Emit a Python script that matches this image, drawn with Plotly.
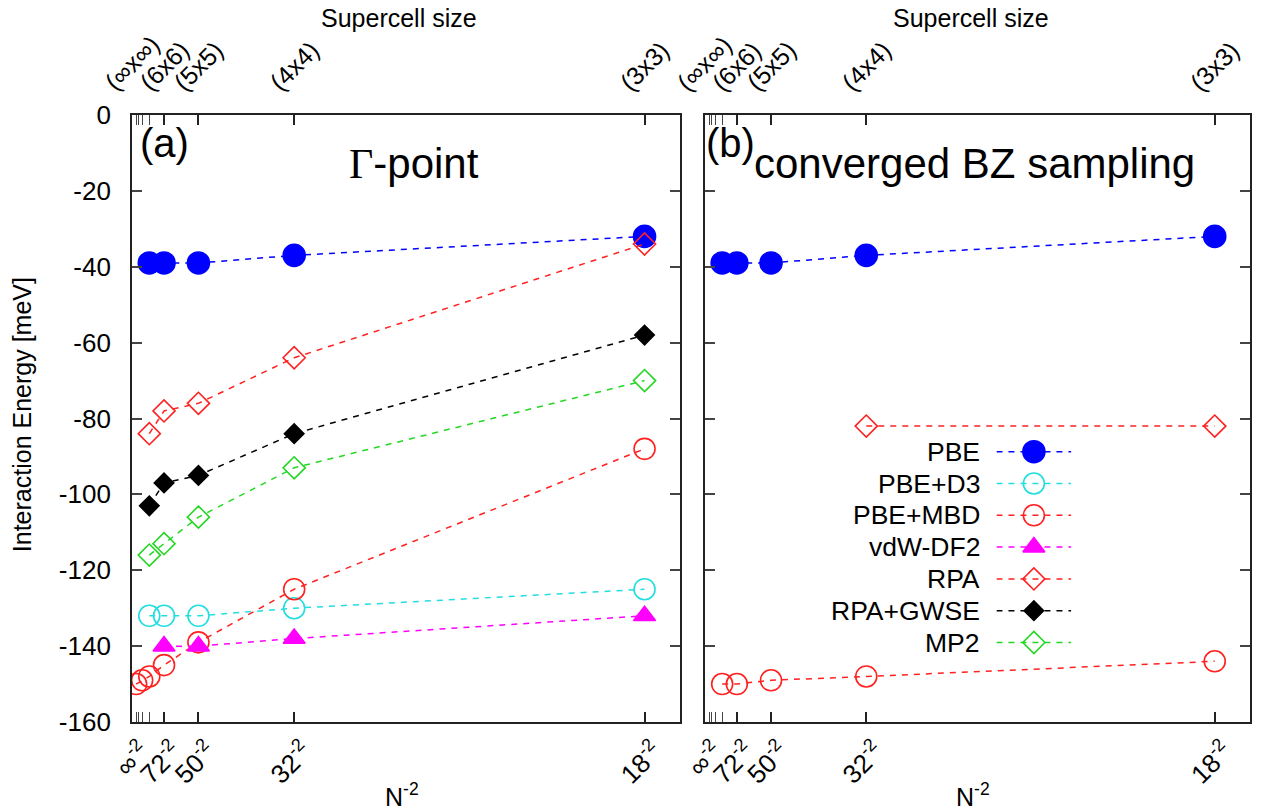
import plotly.graph_objects as go

# ---------------- data ----------------
# x axis: N^-2 ; N = 0 stands for infinity
X_TICK_N = [0, 72, 50, 32, 18]
X_TICK_TEXT = ['∞', '72', '50', '32', '18']
X_MINOR_N = [200, 162, 128, 98]
TOP_N = [0, 72, 50, 32, 18]
TOP_TEXT = ['(∞x∞)', '(6x6)', '(5x5)', '(4x4)', '(3x3)']
Y_TICKS = [-160, -140, -120, -100, -80, -60, -40, -20, 0]

METHODS = ['PBE', 'PBE+D3', 'PBE+MBD', 'vdW-DF2', 'RPA', 'RPA+GWSE', 'MP2']

# panel (a): Gamma-point
A_N_STD = [98, 72, 50, 32, 18]
A_N_MBD = [200, 128, 98, 72, 50, 32, 18]
A_N_VDW = [72, 50, 32, 18]
A_PBE = [-39, -39, -39, -37, -32]
A_PBE_D3 = [-132, -132, -132, -130, -125]
A_PBE_MBD = [-150, -149, -148, -145, -139, -125, -88]
A_VDW_DF2 = [-140, -140, -138, -132]
A_RPA = [-84, -78, -76, -64, -34]
A_RPA_GWSE = [-103, -97, -95, -84, -58]
A_MP2 = [-116, -113, -106, -93, -70]

# panel (b): converged BZ sampling
B_N_STD = [98, 72, 50, 32, 18]
B_N_RPA = [32, 18]
B_PBE = [-39, -39, -39, -37, -32]
B_PBE_MBD = [-150, -150, -149, -148, -144]
B_RPA = [-82, -82]

# ---------------- styles ----------------
STYLE = {
    'PBE':      dict(color='#0000ff', symbol='circle', size=22),
    'PBE+D3':   dict(color='#22dede', symbol='circle-open', size=21),
    'PBE+MBD':  dict(color='#ff2020', symbol='circle-open', size=21),
    'vdW-DF2':  dict(color='#ff00ff', symbol='triangle-up', size=19),
    'RPA':      dict(color='#ff2020', symbol='diamond-open', size=17),
    'RPA+GWSE': dict(color='#000000', symbol='diamond', size=15),
    'MP2':      dict(color='#22d822', symbol='diamond-open', size=17),
}
FONT = 'Liberation Sans, Arial, sans-serif'
DASH = '6px,6px'


def inv2(n):
    return 0.0 if n == 0 else 1.0 / n ** 2


def trace(name, ns, ys, xa, ya):
    s = STYLE[name]
    return go.Scatter(
        x=[inv2(n) for n in ns], y=ys, xaxis=xa, yaxis=ya,
        mode='lines+markers', name=name, showlegend=False,
        line=dict(color=s['color'], width=1.5, dash=DASH),
        marker=dict(symbol=s['symbol'], size=s['size'], color=s['color'],
                    line=dict(color=s['color'], width=1.6)),
    )


fig = go.Figure()
fig.add_trace(trace('PBE', A_N_STD, A_PBE, 'x', 'y'))
fig.add_trace(trace('PBE+D3', A_N_STD, A_PBE_D3, 'x', 'y'))
fig.add_trace(trace('PBE+MBD', A_N_MBD, A_PBE_MBD, 'x', 'y'))
fig.add_trace(trace('vdW-DF2', A_N_VDW, A_VDW_DF2, 'x', 'y'))
fig.add_trace(trace('RPA', A_N_STD, A_RPA, 'x', 'y'))
fig.add_trace(trace('RPA+GWSE', A_N_STD, A_RPA_GWSE, 'x', 'y'))
fig.add_trace(trace('MP2', A_N_STD, A_MP2, 'x', 'y'))

fig.add_trace(trace('PBE', B_N_STD, B_PBE, 'x2', 'y2'))
fig.add_trace(trace('PBE+MBD', B_N_STD, B_PBE_MBD, 'x2', 'y2'))
fig.add_trace(trace('RPA', B_N_RPA, B_RPA, 'x2', 'y2'))

# custom legend (gnuplot style: text, then sample) in its own small axes
for i, name in enumerate(METHODS):
    s = STYLE[name]
    fig.add_trace(go.Scatter(x=[0, 1], y=[i, i], xaxis='x3', yaxis='y3', mode='lines',
                             showlegend=False, hoverinfo='skip',
                             line=dict(color=s['color'], width=1.5, dash=DASH)))
    fig.add_trace(go.Scatter(x=[0.5], y=[i], xaxis='x3', yaxis='y3', mode='markers',
                             showlegend=False, hoverinfo='skip',
                             marker=dict(symbol=s['symbol'], size=s['size'], color=s['color'],
                                         line=dict(color=s['color'], width=1.6))))

# ---------------- layout ----------------
W, H = 1263, 812
ML, MR, MT, MB = 132, 11, 115, 90
PW, PH = W - ML - MR, H - MT - MB


def px(xp):
    return (xp - ML) / PW


def py(yp):
    return (H - MB - yp) / PH


xtickvals = [inv2(n) for n in X_TICK_N]
xticktext = [t + '<sup>-2</sup>' for t in X_TICK_TEXT]

common_x = dict(range=[0, 0.0033], tickvals=xtickvals, ticktext=xticktext, tickangle=-45,
                ticks='inside', ticklen=10, tickwidth=1.5, tickcolor='#222',
                minor=dict(tickvals=[inv2(n) for n in X_MINOR_N], ticks='inside', ticklen=10,
                           tickwidth=1.2, tickcolor='#444', showgrid=False),
                mirror='ticks', showline=True, linecolor='#222', linewidth=1.8,
                showgrid=False, zeroline=False,
                tickfont=dict(family=FONT, size=26, color='black'),
                ticklabelshift=10, ticklabelstandoff=2)
common_y = dict(range=[-160, 0], tickvals=Y_TICKS, ticktext=[str(v) for v in Y_TICKS],
                ticks='inside', ticklen=10, tickwidth=1.5, tickcolor='#444',
                mirror='ticks', showline=True, linecolor='#222', linewidth=1.8,
                showgrid=False, zeroline=False,
                tickfont=dict(family=FONT, size=26, color='black'),
                ticklabelstandoff=14)

annotations = []
for xref in ['x', 'x2']:
    for n, t in zip(TOP_N, TOP_TEXT):
        annotations.append(dict(x=inv2(n), y=py(99), xref=xref, yref='paper', text=t,
                                textangle=-45, xanchor='center', yanchor='bottom',
                                showarrow=False, font=dict(family=FONT, size=25, color='black')))

for cx in [399, 973]:
    annotations.append(dict(x=px(cx), y=py(18), xref='paper', yref='paper', text='Supercell size',
                            showarrow=False, xanchor='center', yanchor='middle',
                            font=dict(family=FONT, size=25, color='black')))
for cx in [402, 975]:
    annotations.append(dict(x=px(cx), y=py(795), xref='paper', yref='paper', text='N<sup>-2</sup>',
                            showarrow=False, xanchor='center', yanchor='middle',
                            font=dict(family=FONT, size=25, color='black')))

annotations.append(dict(x=px(22), y=py(415), xref='paper', yref='paper',
                        text='Interaction Energy [meV]', textangle=-90, showarrow=False,
                        xanchor='center', yanchor='middle',
                        font=dict(family=FONT, size=25, color='black')))

annotations.append(dict(x=px(138), y=py(143), xref='paper', yref='paper', text='(a)',
                        showarrow=False, xanchor='left', yanchor='middle',
                        font=dict(family=FONT, size=40, color='black')))
annotations.append(dict(x=px(415), y=py(164), xref='paper', yref='paper',
                        text="<span style='font-family:Liberation Serif, Times New Roman, serif'>Γ</span>-point",
                        showarrow=False, xanchor='center', yanchor='middle',
                        font=dict(family=FONT, size=42, color='black')))
annotations.append(dict(x=px(705), y=py(143), xref='paper', yref='paper', text='(b)',
                        showarrow=False, xanchor='left', yanchor='middle',
                        font=dict(family=FONT, size=40, color='black')))
annotations.append(dict(x=px(753), y=py(164), xref='paper', yref='paper',
                        text='converged BZ sampling',
                        showarrow=False, xanchor='left', yanchor='middle',
                        font=dict(family=FONT, size=42, color='black')))

for i, name in enumerate(METHODS):
    annotations.append(dict(x=0, y=i, xref='x3', yref='y3', text=name, showarrow=False,
                            xanchor='right', yanchor='middle', xshift=-14,
                            font=dict(family=FONT, size=26.5, color='black')))

row_h = 31.8
fig.update_layout(
    width=W, height=H, margin=dict(l=ML, r=MR, t=MT, b=MB),
    paper_bgcolor='white', plot_bgcolor='white', showlegend=False,
    xaxis=dict(domain=[0, px(681)], anchor='y', **common_x),
    xaxis2=dict(domain=[px(706), 1], anchor='y2', **common_x),
    yaxis=dict(domain=[0, 1], anchor='x', **common_y),
    yaxis2=dict(domain=[0, 1], anchor='x2', showticklabels=False,
                **{k: v for k, v in common_y.items() if k not in ('tickfont', 'ticklabelstandoff')}),
    xaxis3=dict(domain=[px(998), px(1073)], range=[0, 1], anchor='y3', visible=False),
    yaxis3=dict(domain=[py(451.7 + 6 * row_h + row_h / 2), py(451.7 - row_h / 2)],
                range=[len(METHODS) - 0.5, -0.5], anchor='x3', visible=False),
    annotations=annotations,
)

fig.write_html('out.html', config={'displayModeBar': False},
               post_script="document.body.style.margin='0';document.body.style.padding='0';"
                           "document.body.style.overflow='hidden';")
